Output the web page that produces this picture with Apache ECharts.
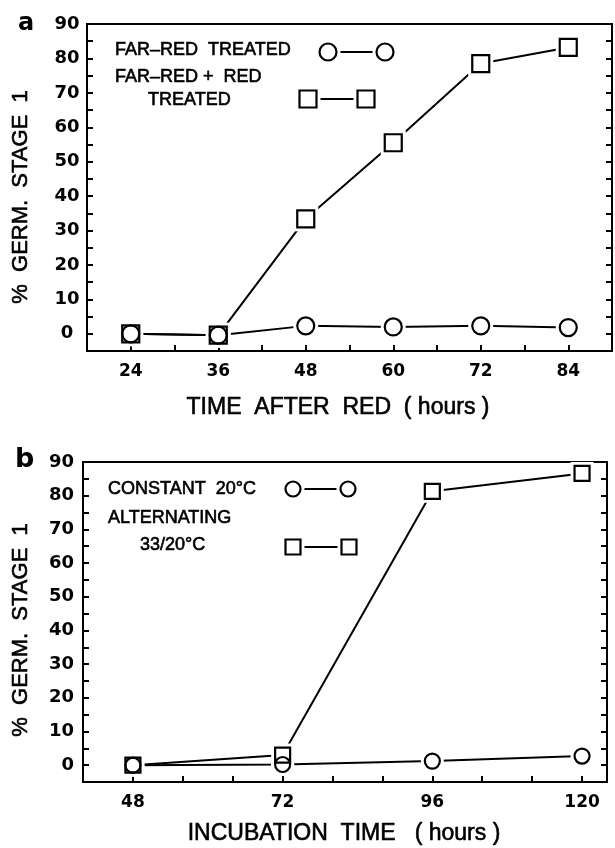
<!DOCTYPE html>
<html>
<head>
<meta charset="utf-8">
<script src="https://cdn.jsdelivr.net/npm/echarts@6/dist/echarts.min.js"></script>
<style>
  html, body { margin: 0; padding: 0; background: #fff; }
  #chart { width: 615px; height: 848px; }
</style>
</head>
<body>
<div id="chart"></div>
<script>
// panel a: hours after red light
const hoursA = [24, 36, 48, 60, 72, 84]
const farRedTreated = [0, -0.4, 2.3, 2.0, 2.3, 1.8]
const farRedPlusRed = [0, -0.4, 33.4, 55.5, 78.5, 83.2]

// panel b: incubation time
const hoursB = [48, 72, 96, 120]
const constant20 = [0, 0.2, 1.2, 2.7]
const alternating3320 = [0, 3, 81.3, 86.6]

// tick labels
const yTickLabels = [0, 10, 20, 30, 40, 50, 60, 70, 80, 90]
const xTickLabelsA = [24, 36, 48, 60, 72, 84]
const xTickLabelsB = [48, 72, 96, 120]

const BLACK = '#000'
const labelFont = 'DejaVu Sans'
const textFont = 'Liberation Sans'

const chart = echarts.init(document.getElementById('chart'), null, { renderer: 'canvas' })

const yAxis = (gridIndex, position, labelOpts) => ({
  type: 'value',
  gridIndex,
  position,
  min: -5,
  max: 90,
  interval: 5,
  splitLine: { show: false },
  axisLine: { show: true, onZero: false, lineStyle: { color: BLACK, width: 2 } },
  axisTick: { show: true, inside: true, length: 6, lineStyle: { color: BLACK, width: 2 } },
  axisLabel: labelOpts
    ? Object.assign({
        color: BLACK,
        fontFamily: labelFont,
        fontWeight: 'bold',
        fontSize: 18,
        formatter: v => (yTickLabels.includes(v) ? String(v) : '')
      }, labelOpts)
    : { show: false }
})

const xAxis = (gridIndex, min, max, interval, labels) => ({
  type: 'value',
  gridIndex,
  min,
  max,
  interval,
  splitLine: { show: false },
  axisLine: { show: true, onZero: false, lineStyle: { color: BLACK, width: 2 } },
  axisTick: { show: true, inside: true, length: 6, lineStyle: { color: BLACK, width: 2 } },
  axisLabel: {
    color: BLACK,
    fontFamily: labelFont,
    fontWeight: 'bold',
    fontSize: 17,
    margin: 12,
    showMinLabel: false,
    showMaxLabel: false,
    formatter: v => (labels.includes(v) ? String(v) : '')
  }
})

// line + white halo (gap round the markers) + outlined marker
// markers are hollow so overlapping circle/square both show
const makeSeries = (axisIndex, xs, ys, symbol, size) => {
  const data = xs.map((x, i) => [x, ys[i]])
  const base = { xAxisIndex: axisIndex, yAxisIndex: axisIndex * 2, data, silent: true }
  return [
    Object.assign({ type: 'line', symbol: 'none', lineStyle: { color: BLACK, width: 2 }, z: 2 }, base),
    Object.assign({ type: 'scatter', symbol, symbolSize: size + 8, itemStyle: { color: '#fff', opacity: 1 }, z: 3 }, base),
    Object.assign({
      type: 'scatter',
      symbol,
      symbolSize: size,
      itemStyle: { color: 'transparent', borderColor: BLACK, borderWidth: 2.2, opacity: 1 },
      z: 4
    }, base)
  ]
}

const text = (x, y, str, opts = {}) => Object.assign({
  type: 'text',
  x,
  y,
  silent: true,
  style: Object.assign({
    text: str,
    fill: BLACK,
    stroke: BLACK,
    lineWidth: 0.6,
    fontFamily: textFont,
    fontSize: 18,
    align: 'left',
    verticalAlign: 'middle'
  }, opts.style || {})
}, opts.el || {})

const legendPair = (x1, x2, y, symbol, r) => {
  const shape = (cx) => symbol === 'circle'
    ? { type: 'circle', shape: { cx, cy: y, r }, style: { fill: '#fff', stroke: BLACK, lineWidth: 2.2 } }
    : { type: 'rect', shape: { x: cx - r, y: y - r, width: 2 * r, height: 2 * r }, style: { fill: '#fff', stroke: BLACK, lineWidth: 2.2 } }
  return [
    shape(x1),
    { type: 'line', shape: { x1: x1 + r + 4, y1: y, x2: x2 - r - 4, y2: y }, style: { stroke: BLACK, lineWidth: 2 } },
    shape(x2)
  ]
}

const option = {
  animation: false,
  backgroundColor: '#fff',
  grid: [
    { left: 87, top: 24, width: 525, height: 327, show: true, borderColor: BLACK, borderWidth: 2, backgroundColor: 'transparent' },
    { left: 83, top: 462, width: 524, height: 320, show: true, borderColor: BLACK, borderWidth: 2, backgroundColor: 'transparent' }
  ],
  xAxis: [
    xAxis(0, 18, 90, 6, xTickLabelsA),
    xAxis(1, 40, 124, 8, xTickLabelsB)
  ],
  yAxis: [
    yAxis(0, 'left', { align: 'center', margin: 20 }),
    yAxis(0, 'right', null),
    yAxis(1, 'left', { align: 'right', margin: 9 }),
    yAxis(1, 'right', null)
  ],
  series: [
    ...makeSeries(0, hoursA, farRedTreated, 'circle', 17),
    ...makeSeries(0, hoursA, farRedPlusRed, 'rect', 17),
    ...makeSeries(1, hoursB, constant20, 'circle', 15),
    ...makeSeries(1, hoursB, alternating3320, 'rect', 15)
  ],
  graphic: [
    // panel letters
    text(18, 24, 'a', { style: { fontFamily: 'DejaVu Sans', fontWeight: 'bold', fontSize: 24, lineWidth: 0 } }),
    text(15, 460, 'b', { style: { fontFamily: 'DejaVu Sans', fontWeight: 'bold', fontSize: 27, lineWidth: 0 } }),

    // axis titles
    text(21, 197, '%  GERM.  STAGE  1', { style: { fontSize: 22, align: 'center' }, el: { rotation: Math.PI / 2 } }),
    text(21, 630, '%  GERM.  STAGE  1', { style: { fontSize: 22, align: 'center' }, el: { rotation: Math.PI / 2 } }),
    text(338, 408, 'TIME  AFTER  RED  ( hours )', { style: { fontSize: 23, align: 'center' } }),
    text(344, 834, 'INCUBATION  TIME   ( hours )', { style: { fontSize: 23, align: 'center' } }),

    // legend a
    text(115, 50, 'FAR–RED  TREATED'),
    text(115, 77, 'FAR–RED +  RED'),
    text(148, 100, 'TREATED'),
    ...legendPair(328, 385, 52, 'circle', 8.5),
    ...legendPair(308, 366, 99, 'rect', 8.5),

    // legend b
    text(108, 489, 'CONSTANT  20°C'),
    text(108, 518, 'ALTERNATING'),
    text(140, 545, '33/20°C'),
    ...legendPair(293, 348, 489, 'circle', 7.5),
    ...legendPair(293, 349, 547, 'rect', 7.5)
  ]
}

chart.setOption(option)
</script>
</body>
</html>
